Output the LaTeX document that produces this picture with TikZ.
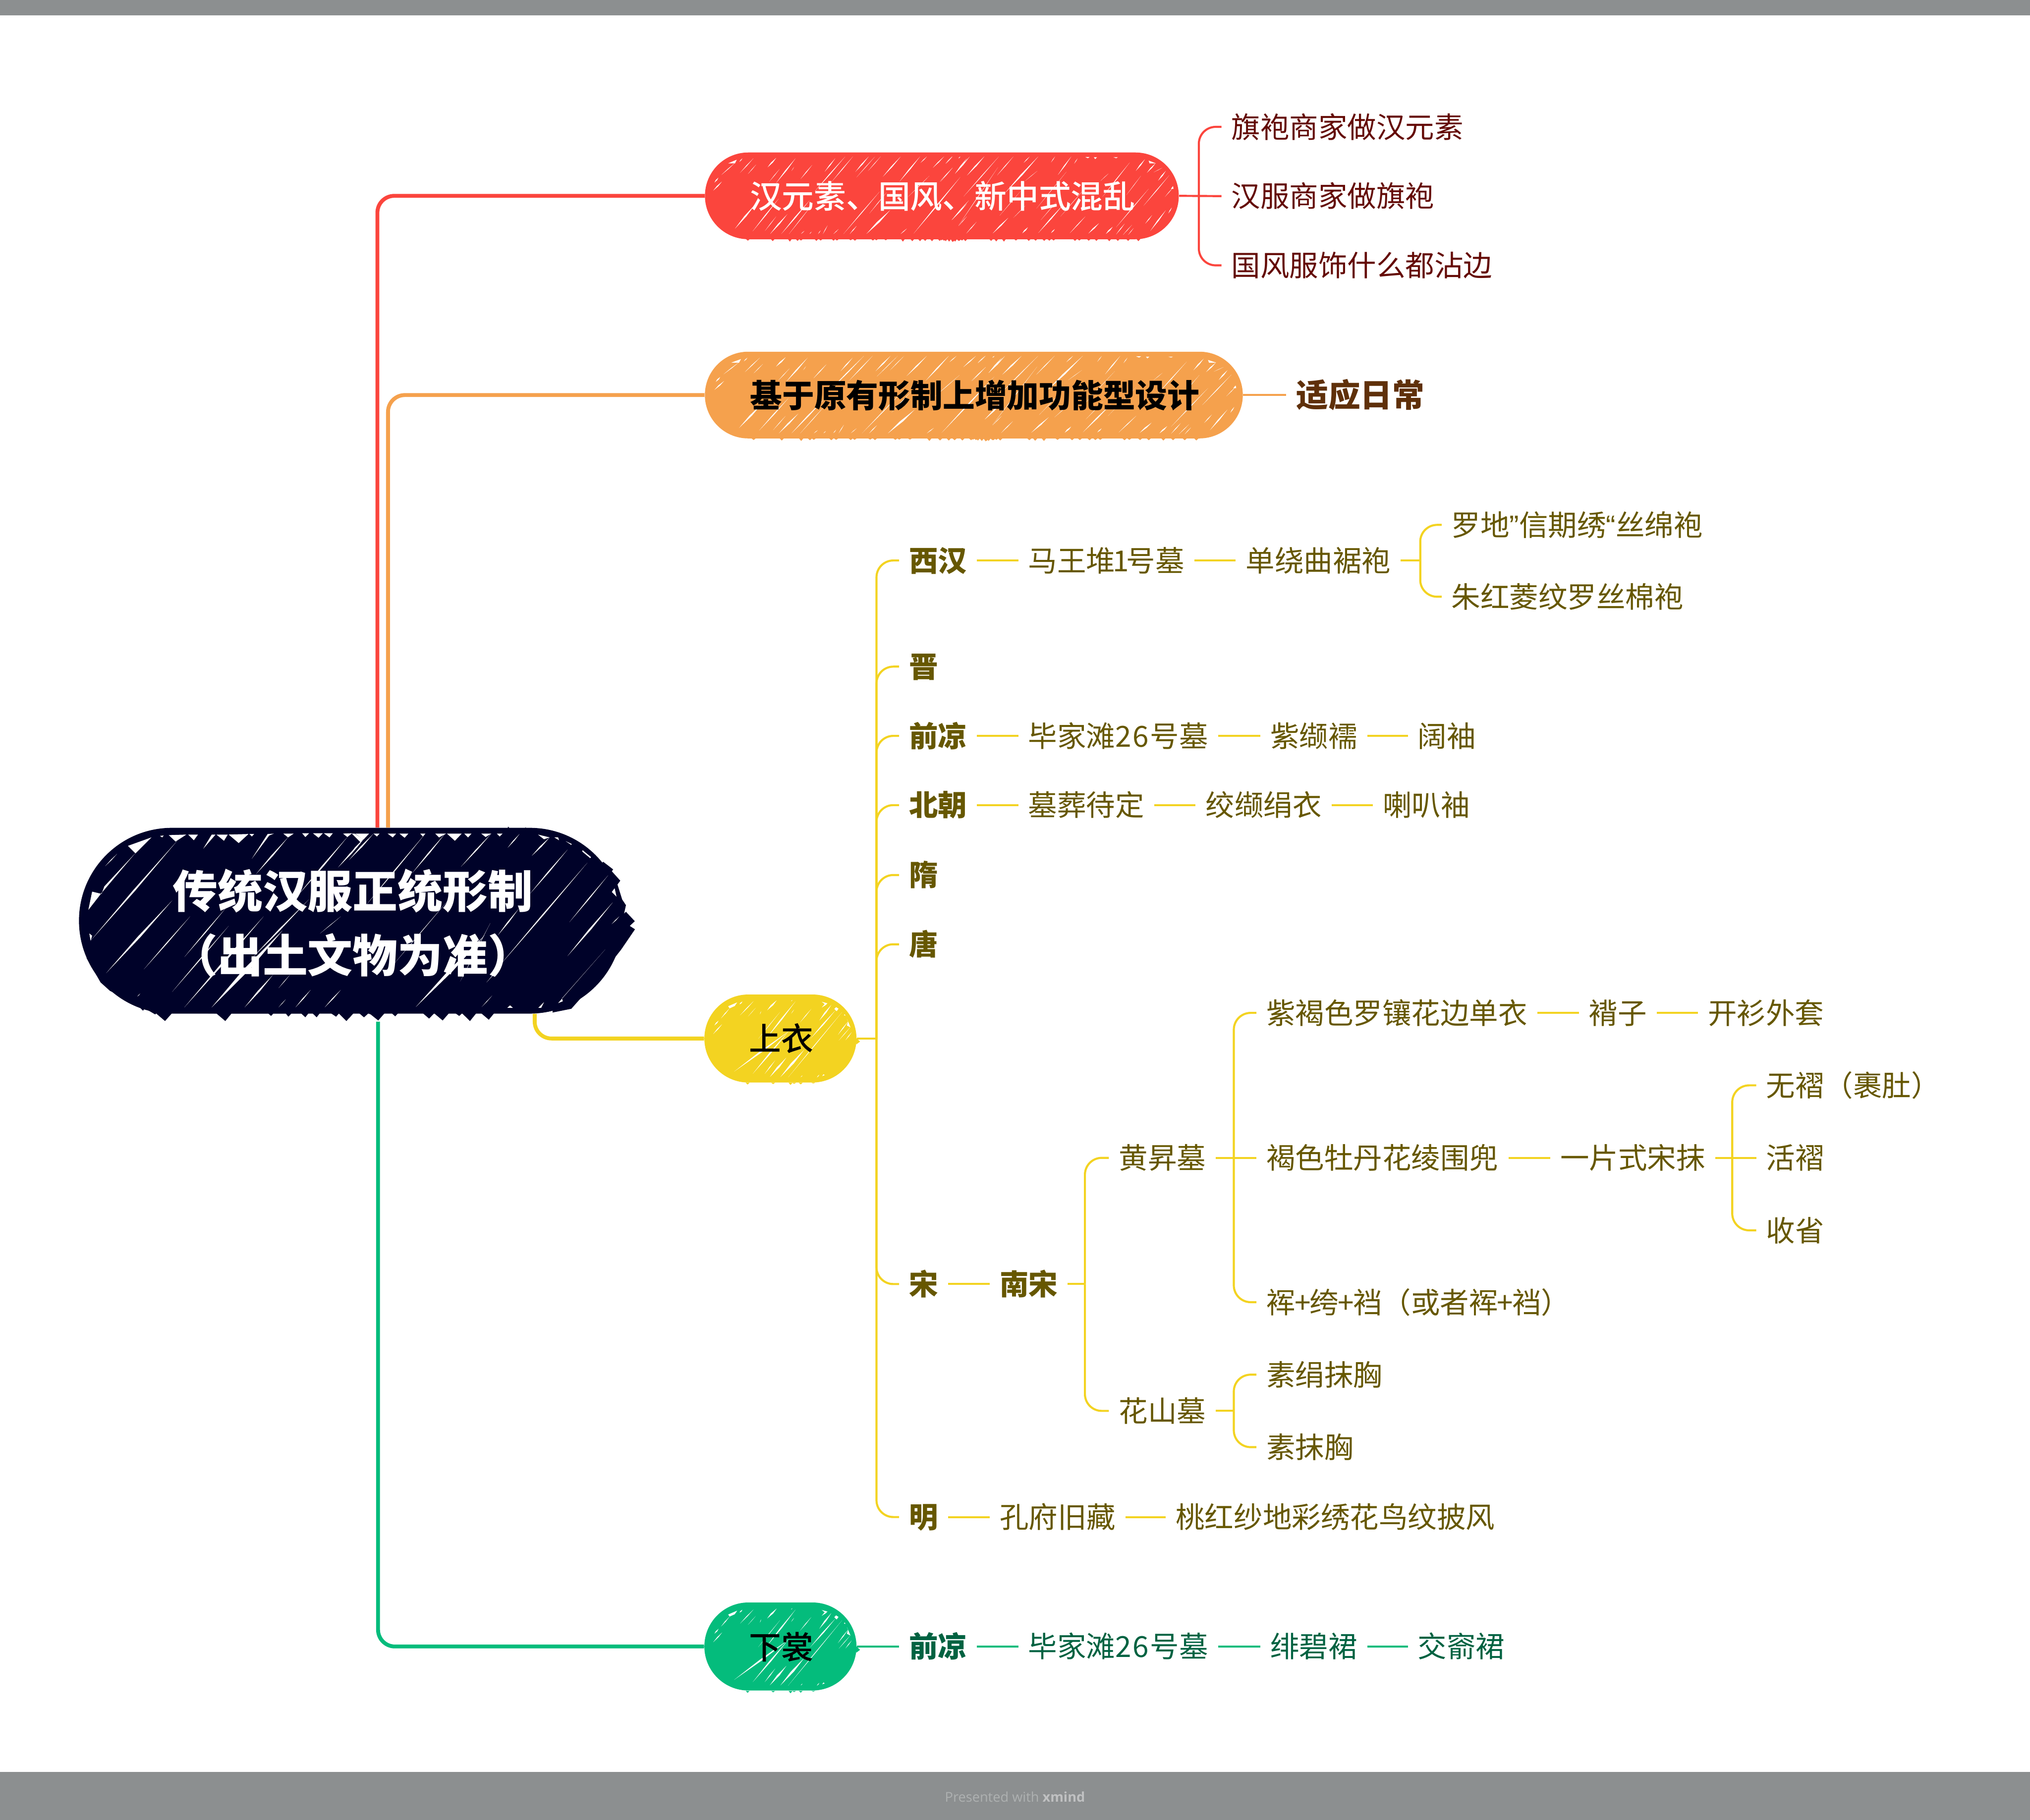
\documentclass[tikz,border=0pt]{standalone}
\usepackage{fontspec}
\usetikzlibrary{shapes.misc}
\setmainfont{Noto Sans CJK SC}
\newfontfamily\medfont{Noto Sans CJK SC Medium}
\newfontfamily\mindfont{Open Sans}
\newfontfamily\quotefont{Liberation Sans}
\definecolor{navy}{HTML}{000229}
\definecolor{cred}{HTML}{FB453D}
\definecolor{corange}{HTML}{F5A14D}
\definecolor{cyellow}{HTML}{F3D321}
\definecolor{cgreen}{HTML}{04BC7C}
\definecolor{tred}{HTML}{640A05}
\definecolor{torange}{HTML}{5F300A}
\definecolor{tyellow}{HTML}{665700}
\definecolor{tgreen}{HTML}{006241}
\definecolor{band}{HTML}{8C8F90}
\newcommand{\HL}[5]{\fill[white] (#1,#2) -- ({(#1+#3)/2+0.9*#5},{(#2+#4)/2}) -- (#3,#4) -- ({(#1+#3)/2-0.9*#5},{(#2+#4)/2}) -- cycle;}
\newcommand{\WP}[1]{\fill[white] #1 -- cycle;}
\newcommand{\digitsix}{2\kern.9pt 6\kern1.3pt }
\newcommand{\narrowone}{\makebox[8.6pt][c]{1}}
% hatching of the long pills, in a frame of its own
\newcommand{\longpattern}[1]{%
  \foreach \t/\d in {290/20,435/25,535/30,580/22,600/18,690/22,715/18,790/20,810/18,890/15,915/20,1020/18,1040/15,1095/15,1195/30,1250/25,1295/25,1325/22,1365/25,1410/22,1435/20,1465/18,1490/30,1520/22,1540/18,1560/15,1420/15,1445/25,1465/30,1485/35,1500/30,1525/22,1560/25,1710/22,1740/28,1785/30,1855/18,1930/22,1970/20,2020/22,2050/20,2075/18,2200/22,2225/18,2280/20,2325/22,2400/25,2450/22,2510/22,2570/25}
    {\fill[#1] (\t-12,1170) -- (\t,1170+\d) -- (\t+12,1170) -- cycle;}
  \HL{215}{1055}{335}{780}{7}\HL{318}{1085}{470}{720}{4}\HL{245}{430}{322}{270}{3}\HL{290}{445}{338}{340}{2}
  \HL{405}{370}{455}{265}{6}\HL{420}{1115}{520}{895}{6}\HL{390}{1080}{455}{920}{2}\HL{485}{1115}{650}{740}{5}
  \HL{530}{1115}{660}{800}{2}\HL{600}{1115}{620}{1080}{2}\HL{650}{1115}{662}{1090}{2}\HL{700}{1115}{715}{1075}{2}
  \HL{728}{1115}{755}{1020}{2}\HL{790}{1115}{820}{1060}{2}\HL{848}{1115}{1060}{640}{3}\HL{885}{1115}{925}{1025}{3}
  \HL{982}{1115}{1120}{850}{9}\HL{1000}{885}{1100}{650}{2}\HL{1182}{1115}{1218}{1055}{3}\HL{1258}{1110}{1530}{480}{5}
  \HL{1480}{960}{1568}{780}{4}\HL{1520}{1025}{1568}{920}{2}\HL{415}{530}{475}{390}{2}\HL{455}{545}{568}{270}{5}
  \HL{545}{410}{560}{365}{1}\HL{598}{500}{665}{345}{3}\HL{738}{420}{800}{270}{4}\HL{780}{530}{903}{250}{3}
  \HL{680}{640}{858}{250}{4}\HL{918}{420}{995}{250}{5}\HL{925}{480}{1032}{250}{2}\HL{992}{410}{1065}{250}{2}
  \HL{1078}{475}{1182}{250}{5}\HL{1175}{530}{1295}{250}{5}\HL{1298}{320}{1335}{250}{3}\HL{1370}{375}{1435}{250}{4}
  \HL{1445}{330}{1485}{250}{2}\HL{1500}{440}{1568}{270}{4}\HL{1415}{530}{1485}{375}{2}\HL{1225}{700}{1350}{465}{2}
  \HL{135}{455}{215}{320}{3}\WP{(175,325) -- (225,285) -- (215,325)}\HL{240}{310}{258}{270}{3}\HL{95}{540}{118}{485}{5}\HL{88}{630}{138}{530}{5}
  \begin{scope}[shift={(1410,0)}]
    \HL{35}{325}{72}{250}{2}\HL{110}{270}{120}{250}{3}\HL{90}{440}{175}{250}{5}\HL{160}{460}{260}{250}{6}
    \HL{335}{460}{430}{250}{3}\HL{140}{695}{345}{250}{3}\HL{490}{320}{525}{250}{3}\HL{380}{660}{575}{250}{7}
    \HL{650}{315}{673}{250}{2}\HL{690}{455}{768}{250}{4}\HL{785}{330}{805}{270}{2}\HL{0}{530}{75}{375}{2}
    \HL{70}{960}{170}{740}{4}\HL{110}{1020}{340}{370}{2}\HL{155}{1110}{215}{980}{3}\HL{310}{1108}{400}{935}{6}
    \HL{482}{1108}{515}{1040}{6}\HL{575}{1105}{720}{790}{5}\HL{650}{1105}{672}{1060}{4}\HL{760}{1105}{850}{920}{3}
    \HL{868}{1110}{930}{995}{6}\HL{970}{1115}{1010}{1035}{6}\HL{1030}{1120}{1080}{1000}{3}\HL{1070}{1125}{1122}{1015}{2}
    \HL{1100}{1125}{1132}{1050}{2}\HL{1230}{1080}{1320}{850}{5}\HL{1200}{1000}{1240}{905}{3}\HL{1335}{885}{1355}{820}{3}
    \HL{1030}{1040}{1220}{610}{3}\HL{1190}{800}{1340}{460}{3}\HL{1275}{520}{1320}{410}{5}\HL{1250}{425}{1300}{375}{2}
    \HL{1210}{430}{1260}{325}{5}\HL{1145}{410}{1198}{280}{5}\HL{950}{700}{1110}{315}{3}\HL{1315}{700}{1365}{590}{2}
    \WP{(1350,610) -- (1362,580) -- (1365,610)}\WP{(1220,295) -- (1262,325) -- (1225,325)}
    \WP{(900,258) -- (918,258) -- (908,278)}\WP{(1015,258) -- (1040,258) -- (1030,268)}\WP{(850,255) -- (875,255) -- (865,268)}
    \HL{590}{960}{680}{760}{1.5}\HL{350}{910}{470}{640}{1.5}\HL{430}{935}{500}{800}{1.5}\HL{705}{920}{850}{600}{1.5}
    \HL{565}{830}{740}{420}{1.5}\HL{500}{520}{570}{410}{1.5}\HL{1090}{680}{1175}{465}{1.5}\HL{940}{520}{985}{440}{1.5}
  \end{scope}
}
% hatching of the short pills
\newcommand{\shortpattern}[1]{%
  \foreach \t/\d in {412/20,625/15,770/25,800/12,855/18,960/8}
    {\fill[#1] (\t-16,1150) -- (\t,1150+\d) -- (\t+16,1150) -- cycle;}
  \fill[#1] (1310,640) -- (1350,690) -- (1318,722) -- cycle;
  \WP{(250,295) -- (325,252) -- (305,292) -- (262,318)}\HL{190}{430}{262}{318}{5}
  \HL{135}{510}{170}{455}{7}\HL{125}{605}{200}{495}{6}\HL{345}{275}{368}{242}{7}\HL{350}{395}{462}{238}{5}
  \HL{415}{410}{480}{312}{2}\HL{515}{385}{525}{350}{2}\HL{575}{340}{655}{228}{11}\HL{775}{240}{785}{225}{3}
  \HL{500}{660}{682}{360}{3}\HL{565}{660}{812}{240}{8}\HL{775}{378}{800}{332}{2}\HL{850}{475}{943}{325}{4}
  \HL{1010}{455}{1110}{280}{9}\WP{(1030,245) -- (1078,262) -- (1065,280) -- (1030,310) -- (1055,270)}
  \WP{(1135,325) -- (1150,305) -- (1170,322) -- (1155,350)}\HL{935}{660}{1145}{340}{8}\HL{750}{1090}{1200}{360}{4}
  \WP{(1215,395) -- (1222,385) -- (1228,400)}\HL{1165}{615}{1250}{465}{5}\HL{1172}{678}{1268}{530}{3}
  \HL{1228}{675}{1280}{585}{4}\WP{(1240,435) -- (1270,530) -- (1240,510) -- (1250,465)}
  \HL{300}{1025}{760}{570}{14}\HL{455}{1050}{750}{580}{9}\HL{555}{1050}{642}{900}{5}
  \HL{598}{1085}{735}{870}{12}\HL{685}{1088}{885}{780}{14}\HL{855}{1088}{870}{1068}{3}
  \HL{990}{1092}{1010}{1060}{4}\WP{(1035,1075) -- (1055,1065) -- (1045,1055)}
}
\tikzset{
  pill/.style={rounded rectangle,inner sep=0pt,minimum width=#1},
  leaf/.style={anchor=west,inner sep=0pt,inner xsep=7.5pt,text height=16.9pt,text depth=0pt,font=\fontsize{22.4}{26}\selectfont},
  rleaf/.style={leaf,text=tred},
  oleaf/.style={leaf,text=torange,font=\fontsize{24.8}{28}\selectfont\bfseries,text height=18.8pt},
  yleaf/.style={leaf,text=tyellow},
  yhead/.style={leaf,text=tyellow,font=\fontsize{22.4}{26}\selectfont\bfseries},
  gleaf/.style={leaf,text=tgreen},
  ghead/.style={leaf,text=tgreen,font=\fontsize{22.4}{26}\selectfont\bfseries},
  toptext/.style={inner sep=0pt,text height=18.8pt,text depth=0pt,font=\fontsize{24.8}{28}\selectfont\bfseries},
  topmed/.style={toptext,font=\fontsize{24.8}{28}\selectfont\medfont},
  main/.style={line width=3pt,rounded corners=13pt},
  conn/.style={line width=1.6pt,rounded corners=13pt},
}
\begin{document}
\begin{tikzpicture}[x=1pt,y=-1pt]
\useasboundingbox (0,0) rectangle (1568,1406);
\fill[band] (0,0) rectangle (1568,12);
\fill[band] (0,1369) rectangle (1568,1406);
\node[text=white!30!band,font=\fontsize{10.4}{12}\selectfont\mindfont] (credit) at (784,1388) {Presented with \textcolor{white!45!band}{\textbf{xmind}}};

% ---------- root ----------
\node[pill=420pt,minimum height=143.5pt,fill=navy] (root) at (271,711.3) {};
\begin{scope}[shift={(58.07,622.2)},x=.1455pt,y=-.1455pt]
  \fill[navy] (60,810) -- (135,940) -- (185,985) -- (320,1050) -- (360,1090) -- (370,1078) -- (425,1110) -- (430,1105) -- (477,1145) -- (517,1100) -- (750,1105) -- (797,1145) -- (830,1105) -- (1025,1105) -- (1040,1118) -- (1052,1105) -- (1118,1105) -- (1132,1122) -- (1148,1105) -- (1200,1105) -- (1222,1125) -- (1240,1102) -- (1258,1102) -- (1282,1125) -- (1300,1102) -- (1355,1102) -- (1385,1122) -- (1400,1105) -- (1440,1145) -- (1478,1102) -- (1507,1102) -- (1533,1125) -- (1552,1102) -- (1568,1110) -- (1568,900) -- (200,900) -- cycle;
  \WP{(450,162) -- (470,160) -- (462,170)}\WP{(497,158) -- (590,155) -- (533,192)}\WP{(600,155) -- (652,155) -- (630,185)}
  \WP{(680,230) -- (745,155) -- (725,155)}\WP{(750,155) -- (810,155) -- (790,188)}\WP{(815,155) -- (920,152) -- (868,200)}
  \WP{(925,152) -- (950,152) -- (938,165)}\WP{(938,283) -- (1030,160) -- (1055,150) -- (1022,152)}
  \WP{(1105,150) -- (1160,150) -- (1130,170)}\WP{(1205,148) -- (1242,148) -- (1222,168)}\WP{(1262,148) -- (1315,148) -- (1292,172)}
  \WP{(1320,148) -- (1368,148) -- (1350,170)}\WP{(1422,150) -- (1470,148) -- (1445,168)}\WP{(1487,150) -- (1560,150) -- (1530,182)}
  \WP{(280,215) -- (405,170) -- (320,255)}
  \WP{(70,555) -- (90,458) -- (140,470) -- (155,430) -- (318,255) -- (140,465)}
  \HL{160}{322}{222}{258}{3}\HL{85}{715}{540}{190}{7}\WP{(75,680) -- (90,692) -- (82,720)}
  \HL{165}{890}{515}{505}{9}\HL{365}{870}{610}{590}{4}\HL{515}{990}{815}{640}{4}\HL{580}{805}{800}{545}{4}
  \HL{580}{1072}{1000}{590}{8}\HL{725}{1072}{1100}{665}{18}\HL{900}{1072}{1050}{900}{7}\HL{1080}{970}{1140}{900}{2}
  \HL{1080}{1072}{1118}{1030}{2}\HL{1170}{1072}{1250}{980}{4}\HL{1325}{1072}{1410}{980}{4}\HL{1130}{170}{960}{365}{6}
  \HL{1445}{168}{1185}{475}{6}\HL{1530}{182}{1395}{330}{6}\HL{930}{820}{1240}{500}{6}\HL{1300}{680}{1410}{590}{2}
  \HL{330}{1015}{345}{1000}{2}
\end{scope}
\begin{scope}[shift={(269.6,622.2)},x=.1455pt,y=-.1455pt]
  \fill[navy] (0,900) -- (0,1130) -- (25,1102) -- (52,1102) -- (80,1125) -- (105,1102) -- (155,1142) -- (190,1102) -- (225,1102) -- (245,1120) -- (262,1102) -- (390,1102) -- (425,1132) -- (452,1104) -- (497,1142) -- (530,1104) -- (565,1104) -- (585,1118) -- (600,1104) -- (642,1145) -- (675,1104) -- (702,1104) -- (742,1138) -- (770,1104) -- (1000,1104) -- (1000,900) -- cycle;
  \fill[navy] (1080,1100) -- (1180,1080) -- (1220,1035) -- (1300,950) -- (1445,765) -- (1518,658) -- (1490,640) -- (1517,615) -- (1470,565) -- (1460,575) -- (1470,530) -- (1450,500) -- (1425,420) -- (1440,400) -- (1395,350) -- (1402,340) -- (1350,300) -- (1200,400) -- cycle;
  \fill[navy] (840,125) -- (845,113) -- (855,125) -- cycle;\fill[navy] (930,125) -- (937,117) -- (945,125) -- cycle;
  \WP{(30,150) -- (75,180) -- (60,195) -- (15,150)}\HL{75}{180}{0}{265}{6}\HL{130}{150}{0}{290}{6}
  \WP{(130,150) -- (162,150) -- (148,165)}\WP{(205,150) -- (250,150) -- (232,170)}\WP{(268,150) -- (315,150) -- (295,172)}
  \WP{(378,150) -- (405,150) -- (392,165)}\WP{(458,150) -- (515,150) -- (478,170)}\WP{(520,150) -- (598,150) -- (562,188)}
  \WP{(612,150) -- (650,150) -- (632,170)}\WP{(702,150) -- (755,150) -- (725,168)}\WP{(785,150) -- (815,150) -- (800,165)}
  \HL{405}{150}{90}{530}{4}\HL{510}{150}{335}{360}{5}\HL{755}{150}{595}{325}{5}\HL{905}{152}{842}{225}{4}
  \HL{1065}{170}{970}{268}{6}\WP{(1003,155) -- (1065,170) -- (1035,180)}\WP{(1090,170) -- (1115,185) -- (1110,170)}
  \WP{(1150,190) -- (1180,210) -- (1182,205)}\WP{(1240,238) -- (1285,275) -- (1280,280) -- (1238,245)}
  \HL{960}{470}{1160}{235}{5}\HL{1265}{305}{800}{850}{5}\HL{730}{940}{800}{860}{2}\HL{900}{550}{790}{690}{5}
  \HL{750}{625}{590}{935}{2}\HL{525}{505}{240}{840}{2}\HL{355}{1070}{720}{690}{14}\HL{705}{1070}{760}{1010}{2}
  \WP{(840,1075) -- (870,1075) -- (855,1062)}\WP{(1005,1075) -- (1020,1075) -- (1035,1045)}
  \WP{(1110,1050) -- (1135,1040) -- (1130,1025) -- (1360,765)}
  \HL{1170}{620}{1375}{372}{4}\HL{1160}{800}{1400}{515}{7}\WP{(1395,460) -- (1420,485) -- (1410,440)}\HL{1395}{630}{1435}{590}{3}
\end{scope}
\node[text=white,align=center,font=\fontsize{34.8}{50}\selectfont\bfseries,inner sep=0pt] (rootlabel) at (272.5,713) {传统汉服正统形制\\（出土文物为准）};

% ---------- first level ----------
\node[pill=366pt,minimum height=67pt,fill=cred] (t1) at (727.5,151.3) {};
\begin{scope}[shift={(539.3,103.7)},x=.1323pt,y=-.0691pt]
  \longpattern{cred}
\end{scope}
\node[topmed,text=white] (t1label) at (728,151.5) {汉元素、国风、新中式混乱};

\node[pill=415.5pt,minimum height=67pt,fill=corange] (t2) at (752.2,305.2) {};
\begin{scope}[shift={(538.6,257.7)},x=.15pt,y=-.0691pt]
  \longpattern{corange}
\end{scope}
\node[toptext,text=black] (t2label) at (753,305.5) {基于原有形制上增加功能型设计};

\node[pill=117.5pt,minimum height=68pt,fill=cyellow] (t3) at (602.8,802.3) {};
\begin{scope}[shift={(539.3,757)},x=.0926pt,y=-.0691pt]
  \shortpattern{cyellow}
\end{scope}
\node[topmed,text=black] (t3label) at (603.5,802.5) {上衣};

\node[pill=117.5pt,minimum height=68pt,fill=cgreen] (t4) at (602.8,1272) {};
\begin{scope}[shift={(539.3,1226.9)},x=.0926pt,y=-.0691pt]
  \shortpattern{cgreen}
\end{scope}
\node[topmed,text=black] (t4label) at (603.5,1272.5) {下裳};

\draw[main,cred] ([xshift=20.5pt]root.north) |- (t1.west);
\draw[main,corange] ([xshift=28.7pt]root.north) |- (t2.west);
\draw[main,cyellow] ([xshift=142pt]root.south) |- (t3.west);
\draw[main,cgreen] ([xshift=21pt,yshift=-6pt]root.south) |- (t4.west);

% ---------- red ----------
\node[rleaf] (r1) at (943.5,98) {旗袍商家做汉元素};
\node[rleaf] (r2) at (943.5,151.5) {汉服商家做旗袍};
\node[rleaf] (r3) at (943.5,205) {国风服饰什么都沾边};
\coordinate (rt) at (926,151.5);
\begin{scope}[conn,cred]
  \draw (t1.east) -- (r2.west);
  \draw (rt) |- (r1.west);
  \draw (rt) |- (r3.west);
\end{scope}

% ---------- orange ----------
\node[oleaf] (o1) at (993.5,305.2) {适应日常};
\draw[conn,corange] (t2.east) -- (o1.west);

% ---------- yellow ----------
\coordinate (yt) at (677,802.3);
\node[yhead] (y1) at (694.5,433) {西汉};
\node[yhead] (y2) at (694.5,515) {晋};
\node[yhead] (y3) at (694.5,568.5) {前凉};
\node[yhead] (y4) at (694.5,622) {北朝};
\node[yhead] (y5) at (694.5,676) {隋};
\node[yhead] (y6) at (694.5,729.5) {唐};
\node[yhead] (y7) at (694.5,992) {宋};
\node[yhead] (y8) at (694.5,1172) {明};
\begin{scope}[conn,cyellow]
  \draw (t3.east) -- (yt);
  \foreach \n in {1,...,8} {\draw (yt) |- (y\n.west);}
\end{scope}

\node[yleaf] (a1) at (786.5,433) {马王堆\narrowone 号墓};
\node[yleaf] (a2) at (954.5,433) {单绕曲裾袍};
\node[yleaf] (a3) at (1113.5,405.5) {罗地{\quotefont ”}信期绣{\quotefont “}丝绵袍};
\node[yleaf] (a4) at (1113.5,461) {朱红菱纹罗丝棉袍};
\coordinate (at) at (1097,433);
\begin{scope}[conn,cyellow]
  \draw (y1.east) -- (a1.west);
  \draw (a1.east) -- (a2.west);
  \draw (a2.east) -- (at);
  \draw (at) |- (a3.west);
  \draw (at) |- (a4.west);
\end{scope}

\node[yleaf] (b1) at (786.5,568.5) {毕家滩\digitsix 号墓};
\node[yleaf] (b2) at (973.5,568.5) {紫缬襦};
\node[yleaf] (b3) at (1087.5,568.5) {阔袖};
\node[yleaf] (c1) at (786.5,622) {墓葬待定};
\node[yleaf] (c2) at (923.5,622) {绞缬绢衣};
\node[yleaf] (c3) at (1060.5,622) {喇叭袖};
\begin{scope}[conn,cyellow]
  \draw (y3.east) -- (b1.west);
  \draw (b1.east) -- (b2.west);
  \draw (b2.east) -- (b3.west);
  \draw (y4.east) -- (c1.west);
  \draw (c1.east) -- (c2.west);
  \draw (c2.east) -- (c3.west);
\end{scope}

\node[yhead] (s1) at (764.5,992) {南宋};
\coordinate (st) at (838,992);
\node[yleaf] (s2) at (856.5,894.5) {黄昇墓};
\node[yleaf] (s3) at (856.5,1090) {花山墓};
\coordinate (ht) at (953,894.5);
\node[yleaf] (h1) at (970.5,782.5) {紫褐色罗镶花边单衣};
\node[yleaf] (h2) at (970.5,894.5) {褐色牡丹花绫围兜};
\node[yleaf] (h3) at (970.5,1006) {裈\kern-.7pt +\kern-.7pt 绔\kern-.7pt +\kern-.7pt 裆（或者裈\kern-.7pt +\kern-.7pt 裆）};
\node[yleaf] (h4) at (1219.5,782.5) {褙子};
\node[yleaf] (h5) at (1311.5,782.5) {开衫外套};
\node[yleaf] (h6) at (1197.5,894.5) {一片式宋抹};
\coordinate (pt) at (1338,894.5);
\node[yleaf] (p1) at (1356.5,838.5) {无褶（裹肚）};
\node[yleaf] (p2) at (1356.5,894.5) {活褶};
\node[yleaf] (p3) at (1356.5,950.5) {收省};
\coordinate (ft) at (953,1090);
\node[yleaf] (f1) at (970.5,1062) {素绢抹胸};
\node[yleaf] (f2) at (970.5,1118) {素抹胸};
\begin{scope}[conn,cyellow]
  \draw (y7.east) -- (s1.west);
  \draw (s1.east) -- (st);
  \draw (st) |- (s2.west);
  \draw (st) |- (s3.west);
  \draw (s2.east) -- (h2.west);
  \draw (ht) |- (h1.west);
  \draw (ht) |- (h3.west);
  \draw (h1.east) -- (h4.west);
  \draw (h4.east) -- (h5.west);
  \draw (h2.east) -- (h6.west);
  \draw (h6.east) -- (p2.west);
  \draw (pt) |- (p1.west);
  \draw (pt) |- (p3.west);
  \draw (s3.east) -- (ft);
  \draw (ft) |- (f1.west);
  \draw (ft) |- (f2.west);
\end{scope}

\node[yleaf] (m1) at (764.5,1172) {孔府旧藏};
\node[yleaf] (m2) at (900.5,1172) {桃红纱地彩绣花鸟纹披风};
\begin{scope}[conn,cyellow]
  \draw (y8.east) -- (m1.west);
  \draw (m1.east) -- (m2.west);
\end{scope}

% ---------- green ----------
\node[ghead] (g1) at (694.5,1272) {前凉};
\node[gleaf] (g2) at (786.5,1272) {毕家滩\digitsix 号墓};
\node[gleaf] (g3) at (973.5,1272) {绯碧裙};
\node[gleaf] (g4) at (1087.5,1272) {交窬裙};
\begin{scope}[conn,cgreen]
  \draw (t4.east) -- (g1.west);
  \draw (g1.east) -- (g2.west);
  \draw (g2.east) -- (g3.west);
  \draw (g3.east) -- (g4.west);
\end{scope}
\end{tikzpicture}
\end{document}
